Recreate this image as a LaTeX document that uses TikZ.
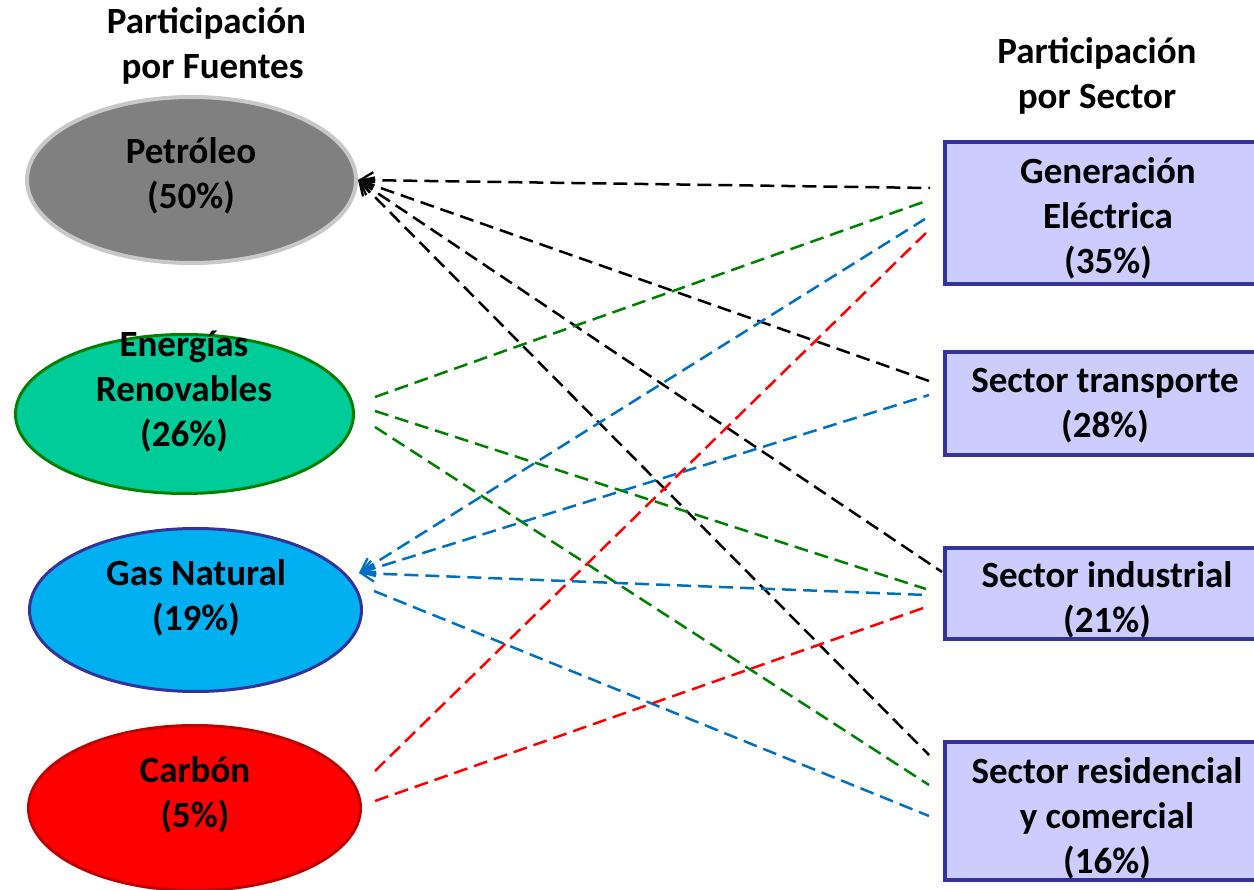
\documentclass[tikz,border=0pt]{standalone}
\usepackage{fontspec}
\setmainfont{Carlito}
\usetikzlibrary{shapes.geometric,arrows.meta}
\definecolor{petfill}{HTML}{808080}
\definecolor{petdraw}{HTML}{C8C8C8}
\definecolor{renfill}{HTML}{00CC99}
\definecolor{rendraw}{HTML}{008000}
\definecolor{gasfill}{HTML}{00B0F0}
\definecolor{navy}{HTML}{333399}
\definecolor{carfill}{HTML}{FF0000}
\definecolor{cardraw}{HTML}{C00000}
\definecolor{boxfill}{HTML}{CCCCFF}
\definecolor{lblue}{HTML}{0070C0}
\definecolor{lgreen}{HTML}{008000}
\definecolor{lred}{HTML}{FF0000}
\begin{document}
\begin{tikzpicture}[x=1pt,y=-1pt,
 src/.style={ellipse, line width=3pt, inner sep=0pt, outer sep=0pt},
 sect/.style={rectangle, draw=navy, fill=boxfill, line width=3.5pt, anchor=north west, inner sep=0pt, outer sep=0pt},
 lbl/.style={align=center, font=\fontsize{37}{45}\selectfont\bfseries, inner sep=0pt},
 conn/.style={dash pattern=on 14pt off 7pt, line width=2.5pt},
 tip/.style={{Straight Barb[length=13pt,width=16pt,line width=2.3pt]}-}
]
\useasboundingbox (0,0) rectangle (1254,890);
\clip (0,0) rectangle (1254,890);

% sources
\node[src, draw=petdraw, fill=petfill, line width=4pt, minimum width=329pt, minimum height=166pt] (pet) at (191.5,180) {};
\node[src, draw=rendraw, fill=renfill, minimum width=338pt, minimum height=159pt] (ren) at (184.5,414) {};
\node[src, draw=navy, fill=gasfill, minimum width=332pt, minimum height=163pt] (gas) at (195.5,610) {};
\node[src, draw=cardraw, fill=carfill, minimum width=332pt, minimum height=165pt] (car) at (194.5,808) {};

\node[lbl] (petT) at (191,176) {Petróleo\\(50\%)};
\node[lbl] (renT) at (184,392) {Energías\\Renovables\\(26\%)};
\node[lbl] (gasT) at (196,598) {Gas Natural\\(19\%)};
\node[lbl] (carT) at (195,795) {Carbón\\(5\%)};

% sectors
\node[sect, minimum width=327pt, minimum height=142pt] (gen) at (945,142) {};
\node[sect, minimum width=327pt, minimum height=103pt] (tra) at (945,352) {};
\node[sect, minimum width=327pt, minimum height=91pt] (ind) at (945,548) {};
\node[sect, minimum width=327pt, minimum height=138pt] (res) at (945,742) {};

\node[lbl] (genT) at (1108,218) {Generación\\Eléctrica\\(35\%)};
\node[lbl] (traT) at (1105,406) {Sector transporte\\(28\%)};
\node[lbl] (indT) at (1107,600) {Sector industrial\\(21\%)};
\node[lbl] (resT) at (1107,818) {Sector residencial\\y comercial\\(16\%)};

% headers
\node[lbl] (hl) at (206.5,46) {Participación\\\hspace*{12pt}por Fuentes};
\node[lbl] (hr) at (1097,76) {Participación\\por Sector};

% connector end points
\coordinate (p0) at (358,180);
\coordinate (g0) at (359,573);
\coordinate (g1) at (374,591);
\coordinate (r1) at (375,397);
\coordinate (r2) at (375,411);
\coordinate (r3) at (375,427);
\coordinate (c1) at (375,771);
\coordinate (c2) at (375,801);

\coordinate (genK) at (930,188);
\coordinate (genG) at (929,200);
\coordinate (genB) at (925,219);
\coordinate (genR) at (929,230);
\coordinate (traK) at (929,381);
\coordinate (traB) at (929,395);
\coordinate (indK) at (942,572);
\coordinate (indG) at (926,589);
\coordinate (indB) at (927,595);
\coordinate (indR) at (929,606);
\coordinate (resK) at (929,755);
\coordinate (resG) at (929,785);
\coordinate (resB) at (929,816);

% black (Petróleo)
\draw[conn, black, tip] (p0) -- (genK);
\draw[conn, black, tip] (p0) -- (traK);
\draw[conn, black, tip] (p0) -- (indK);
\draw[conn, black, tip] (p0) -- (resK);
% green (Renovables)
\draw[conn, lgreen] (r1) -- (genG);
\draw[conn, lgreen] (r2) -- (indG);
\draw[conn, lgreen] (r3) -- (resG);
% blue (Gas)
\draw[conn, lblue, tip] (g0) -- (genB);
\draw[conn, lblue, tip] (g0) -- (traB);
\draw[conn, lblue, tip] (g0) -- (indB);
\draw[conn, lblue] (g1) -- (resB);
% red (Carbón)
\draw[conn, lred] (c1) -- (genR);
\draw[conn, lred] (c2) -- (indR);
\end{tikzpicture}
\end{document}
